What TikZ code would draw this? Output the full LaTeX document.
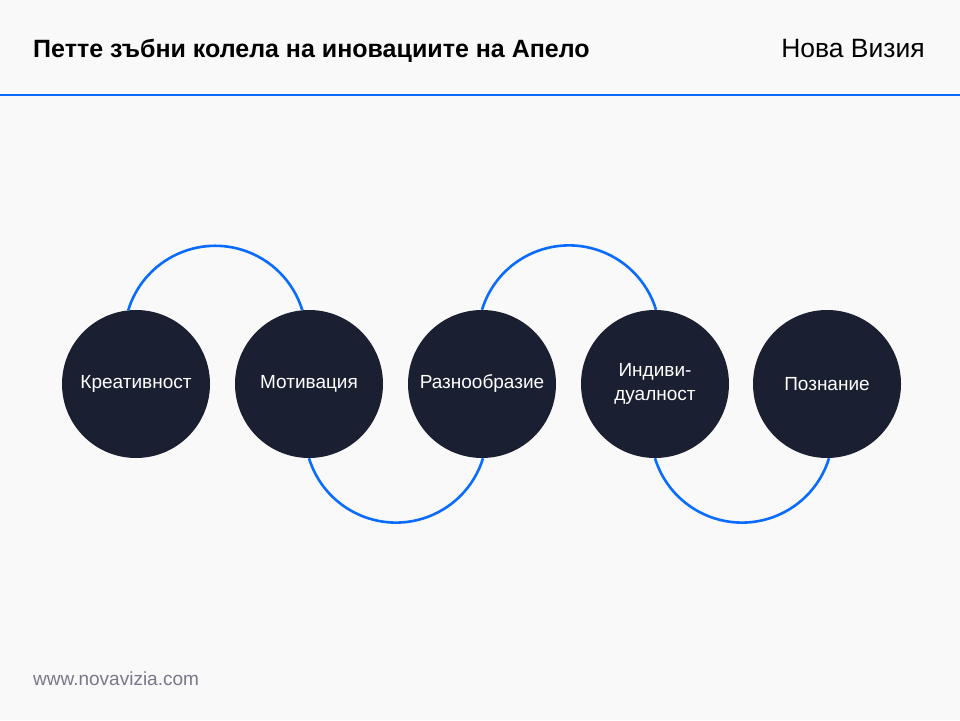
\documentclass[tikz,border=0pt]{standalone}
\usepackage{fontspec}
\setmainfont{Liberation Sans}
\definecolor{pagebg}{RGB}{249,249,249}
\definecolor{navy}{RGB}{27,31,50}
\definecolor{linkblue}{RGB}{10,108,255}
\definecolor{urlgray}{RGB}{120,120,138}
\begin{document}
\begin{tikzpicture}[x=1pt,y=1pt,
        gear/.style={circle,fill=navy,minimum size=148pt,inner sep=0pt,
            text=white,align=center,font=\fontsize{19}{23.5}\selectfont},
        link/.style={draw=linkblue,line width=2.6pt}]
        %% Page
        \fill[pagebg] (0,0) rectangle (960,720);
        \useasboundingbox (0,0) rectangle (960,720);
        %% Header
        \node[anchor=base west,inner sep=0pt,font=\fontsize{25}{28}\selectfont\bfseries] (title) at (33,662)
            {Петте зъбни колела на иновациите на Апело};
        \node[anchor=base east,inner sep=0pt,font=\fontsize{26.5}{28}\selectfont] (brand) at (925,662) {Нова Визия};
            \draw[linkblue,line width=2pt] (0,625) -- (960,625);
        %% Gears
        \node[gear] (kreat) at (136,336) {Креативност};
        \node[gear] (motiv) at (309,336) {Мотивация};
        \node[gear] (razno) at (482,336) {Разнообразие};
        \node[gear] (indiv) at (655,336) {Индиви-\\дуалност};
        \node[gear] (pozn)  at (827,336) {Познание};
        %% Links
        \draw[link] (kreat.96) arc[start angle=163,end angle=17,radius=91];
        \draw[link] (motiv.270) arc[start angle=197,end angle=343,radius=91];
        \draw[link] (razno.90) arc[start angle=163,end angle=17,radius=91];
        \draw[link] (indiv.270) arc[start angle=197,end angle=343,radius=91];
        %% Footer
        \node[anchor=base west,inner sep=0pt,text=urlgray,font=\fontsize{19}{22}\selectfont] (url) at (33,35)
            {www.novavizia.com};
    \end{tikzpicture}
\end{document}
